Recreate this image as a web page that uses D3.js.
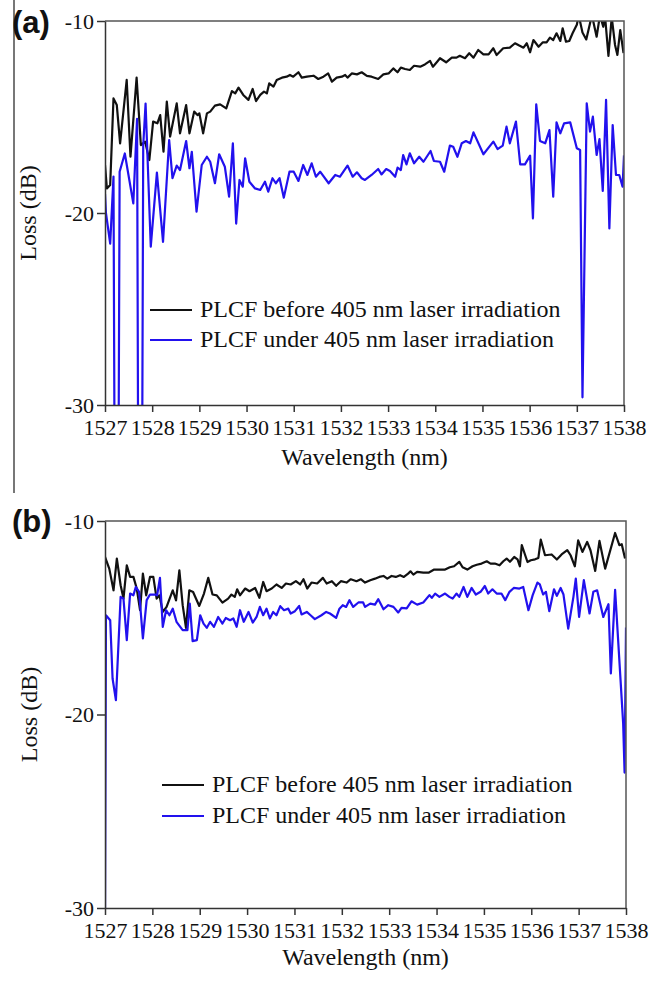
<!DOCTYPE html>
<html>
<head>
<meta charset="utf-8">
<script src="https://cdn.jsdelivr.net/npm/d3@7"></script>
<style>
body { margin: 0; background: #fff; }
svg { display: block; }
.axis path, .axis line { stroke: #333; stroke-width: 1.5; }
.axis text { font-family: "Liberation Serif", "Times New Roman", serif; font-size: 22px; fill: #111; }
.title { font-family: "Liberation Serif", "Times New Roman", serif; font-size: 24px; fill: #111; }
.tag { font-family: "Liberation Sans", Arial, sans-serif; font-size: 31px; font-weight: bold; fill: #111; }
</style>
</head>
<body>
<div id="chart"></div>
<script>
// tick values and labels
var xTicks = [1527, 1528, 1529, 1530, 1531, 1532, 1533, 1534, 1535, 1536, 1537, 1538];
var yTicks = [-10, -20, -30];
var legendLabels = ["PLCF before 405 nm laser irradiation", "PLCF under 405 nm laser irradiation"];

// (a) before irradiation  [wavelength nm, loss dB]
var aBefore = [[1527.0,-17.5],[1527.04,-18.72],[1527.11,-18.54],[1527.18,-14.03],[1527.25,-14.38],[1527.32,-16.37],[1527.46,-13.07],[1527.54,-17.07],[1527.67,-12.95],[1527.76,-16.46],[1527.85,-16.28],[1527.94,-17.24],[1528.02,-15.24],[1528.11,-15.33],[1528.17,-14.9],[1528.24,-16.81],[1528.31,-14.2],[1528.38,-16.02],[1528.52,-14.29],[1528.59,-15.85],[1528.72,-14.38],[1528.79,-15.85],[1528.89,-14.72],[1528.96,-14.9],[1529.0,-14.81],[1529.08,-15.85],[1529.16,-14.81],[1529.23,-14.72],[1529.33,-14.41],[1529.44,-14.34],[1529.57,-14.55],[1529.69,-13.65],[1529.76,-13.77],[1529.83,-13.47],[1529.93,-13.85],[1530.04,-14.11],[1530.13,-13.54],[1530.2,-14.17],[1530.29,-13.85],[1530.37,-13.68],[1530.43,-13.77],[1530.48,-13.25],[1530.57,-13.42],[1530.64,-13.07],[1530.75,-12.95],[1530.85,-12.9],[1530.92,-12.81],[1530.99,-12.9],[1531.1,-12.67],[1531.17,-12.95],[1531.28,-12.9],[1531.42,-12.85],[1531.52,-13.02],[1531.63,-12.9],[1531.73,-12.73],[1531.81,-13.16],[1531.91,-12.95],[1532.02,-12.9],[1532.09,-12.81],[1532.14,-12.95],[1532.23,-12.73],[1532.34,-12.78],[1532.44,-12.67],[1532.55,-12.86],[1532.65,-12.9],[1532.79,-13.02],[1532.9,-12.78],[1533.01,-12.73],[1533.11,-12.47],[1533.2,-12.67],[1533.27,-12.43],[1533.36,-12.5],[1533.46,-12.55],[1533.55,-12.33],[1533.68,-12.38],[1533.78,-12.26],[1533.89,-12.08],[1533.95,-12.38],[1534.04,-12.12],[1534.1,-11.94],[1534.23,-12.15],[1534.35,-11.91],[1534.45,-11.91],[1534.52,-11.81],[1534.63,-11.94],[1534.72,-11.68],[1534.81,-11.91],[1534.91,-11.51],[1535.02,-11.74],[1535.13,-11.74],[1535.23,-11.42],[1535.3,-11.77],[1535.44,-11.42],[1535.58,-11.39],[1535.69,-11.16],[1535.78,-11.28],[1535.87,-11.39],[1535.94,-11.16],[1536.01,-11.63],[1536.08,-10.99],[1536.19,-11.34],[1536.28,-11.11],[1536.36,-11.11],[1536.43,-10.87],[1536.5,-10.99],[1536.57,-10.64],[1536.65,-11.04],[1536.7,-10.38],[1536.77,-11.08],[1536.84,-11.04],[1536.91,-10.64],[1537.0,-10.2],[1537.04,-9.7],[1537.12,-10.6],[1537.2,-10.96],[1537.32,-9.7],[1537.42,-10.82],[1537.49,-9.7],[1537.56,-10.3],[1537.6,-9.8],[1537.67,-11.82],[1537.74,-9.8],[1537.81,-11.25],[1537.86,-11.77],[1537.92,-10.47],[1537.99,-11.67]];

// (a) under irradiation
var aUnder = [[1527.0,-19.0],[1527.02,-20.0],[1527.11,-21.6],[1527.18,-18.1],[1527.2,-31],[1527.29,-31],[1527.31,-17.85],[1527.42,-16.9],[1527.6,-19.5],[1527.68,-15.1],[1527.7,-31],[1527.79,-31],[1527.81,-16.5],[1527.86,-14.3],[1527.97,-21.75],[1528.1,-17.9],[1528.23,-21.5],[1528.36,-16.2],[1528.43,-18.19],[1528.52,-17.53],[1528.59,-17.76],[1528.72,-16.25],[1528.79,-17.67],[1528.84,-16.81],[1528.94,-19.93],[1529.05,-17.5],[1529.16,-17.07],[1529.23,-17.33],[1529.33,-18.45],[1529.42,-16.94],[1529.54,-17.59],[1529.63,-19.15],[1529.71,-16.37],[1529.78,-20.55],[1529.85,-18.28],[1529.92,-18.63],[1529.97,-17.15],[1530.06,-18.37],[1530.18,-18.72],[1530.29,-18.8],[1530.39,-18.37],[1530.46,-18.89],[1530.55,-18.19],[1530.62,-18.45],[1530.7,-18.19],[1530.79,-19.2],[1530.91,-17.85],[1531.0,-17.85],[1531.1,-18.33],[1531.2,-17.5],[1531.29,-18.02],[1531.38,-17.41],[1531.47,-18.11],[1531.56,-17.85],[1531.74,-18.45],[1531.88,-18.02],[1531.98,-18.11],[1532.14,-17.53],[1532.25,-18.11],[1532.34,-17.88],[1532.44,-18.19],[1532.51,-18.28],[1532.65,-18.02],[1532.79,-17.71],[1532.86,-17.99],[1532.96,-17.71],[1533.04,-17.81],[1533.15,-18.11],[1533.2,-17.64],[1533.27,-17.76],[1533.32,-16.98],[1533.39,-17.47],[1533.46,-16.89],[1533.55,-17.41],[1533.66,-17.07],[1533.75,-17.33],[1533.9,-16.77],[1533.97,-17.29],[1534.1,-17.33],[1534.19,-17.85],[1534.31,-16.49],[1534.38,-16.55],[1534.47,-17.07],[1534.56,-16.37],[1534.65,-16.25],[1534.74,-16.37],[1534.81,-15.8],[1535.02,-16.94],[1535.23,-16.28],[1535.32,-16.67],[1535.43,-16.49],[1535.51,-15.5],[1535.58,-16.37],[1535.71,-15.24],[1535.8,-17.47],[1535.9,-17.47],[1536.01,-17.01],[1536.07,-20.28],[1536.14,-14.34],[1536.22,-16.25],[1536.33,-16.37],[1536.42,-15.68],[1536.5,-19.15],[1536.57,-15.28],[1536.65,-15.85],[1536.73,-15.33],[1536.86,-15.28],[1537.0,-16.63],[1537.07,-16.72],[1537.12,-29.6],[1537.21,-14.29],[1537.28,-15.76],[1537.34,-14.98],[1537.42,-16.98],[1537.48,-16.15],[1537.55,-18.85],[1537.62,-14.11],[1537.69,-20.8],[1537.76,-15.42],[1537.83,-18.02],[1537.9,-18.02],[1537.97,-18.63],[1538.0,-17.0]];

// (b) before irradiation
var bBefore = [[1527.0,-11.86],[1527.09,-12.46],[1527.18,-13.58],[1527.25,-11.94],[1527.33,-13.32],[1527.39,-14.01],[1527.46,-12.29],[1527.53,-12.89],[1527.6,-12.89],[1527.67,-13.49],[1527.74,-14.61],[1527.8,-12.72],[1527.87,-13.84],[1527.95,-12.89],[1528.02,-12.89],[1528.09,-14.01],[1528.15,-13.84],[1528.22,-14.7],[1528.3,-14.44],[1528.43,-13.58],[1528.5,-14.1],[1528.57,-12.55],[1528.64,-14.35],[1528.71,-15.52],[1528.78,-13.58],[1528.86,-13.67],[1528.99,-14.39],[1529.09,-13.75],[1529.18,-12.94],[1529.27,-13.8],[1529.36,-13.84],[1529.48,-14.22],[1529.6,-14.01],[1529.67,-13.8],[1529.74,-13.92],[1529.79,-13.53],[1529.85,-13.84],[1529.96,-13.49],[1530.05,-13.63],[1530.17,-13.46],[1530.26,-13.97],[1530.34,-13.15],[1530.41,-13.63],[1530.52,-13.49],[1530.62,-13.28],[1530.73,-13.46],[1530.82,-13.23],[1530.92,-13.28],[1531.03,-13.11],[1531.12,-13.28],[1531.19,-13.01],[1531.27,-13.49],[1531.36,-13.18],[1531.48,-13.23],[1531.6,-12.94],[1531.68,-13.23],[1531.79,-13.11],[1531.88,-13.35],[1531.98,-13.11],[1532.1,-13.18],[1532.19,-13.01],[1532.31,-13.11],[1532.4,-13.01],[1532.49,-13.18],[1532.6,-13.06],[1532.7,-12.98],[1532.79,-12.89],[1532.88,-12.84],[1532.96,-12.98],[1533.05,-12.84],[1533.14,-12.89],[1533.23,-12.8],[1533.31,-12.89],[1533.4,-12.72],[1533.45,-12.6],[1533.51,-12.77],[1533.59,-12.63],[1533.72,-12.67],[1533.83,-12.67],[1533.95,-12.51],[1534.07,-12.51],[1534.18,-12.51],[1534.28,-12.39],[1534.37,-12.34],[1534.48,-12.11],[1534.55,-12.39],[1534.65,-12.51],[1534.76,-12.34],[1534.85,-12.26],[1534.95,-12.2],[1535.06,-12.08],[1535.14,-12.2],[1535.23,-12.2],[1535.33,-12.29],[1535.41,-12.08],[1535.48,-11.94],[1535.55,-12.11],[1535.64,-11.86],[1535.71,-11.98],[1535.76,-12.34],[1535.8,-11.25],[1535.92,-12.12],[1535.99,-12.03],[1536.08,-11.98],[1536.15,-11.91],[1536.2,-10.96],[1536.29,-11.77],[1536.43,-11.73],[1536.54,-11.99],[1536.64,-11.73],[1536.76,-11.51],[1536.83,-11.77],[1536.92,-12.34],[1536.99,-11.0],[1537.08,-11.6],[1537.18,-11.08],[1537.25,-11.51],[1537.35,-12.58],[1537.44,-11.03],[1537.56,-12.46],[1537.77,-10.62],[1537.86,-11.25],[1537.91,-11.2],[1537.98,-11.94]];

// (b) under irradiation
var bUnder = [[1527.0,-30.5],[1527.02,-14.87],[1527.11,-15.13],[1527.16,-18.14],[1527.23,-19.26],[1527.33,-13.92],[1527.39,-14.01],[1527.46,-16.16],[1527.53,-13.75],[1527.6,-13.84],[1527.65,-13.41],[1527.72,-13.66],[1527.8,-16.07],[1527.88,-14.09],[1527.95,-13.8],[1528.06,-13.8],[1528.1,-13.84],[1528.16,-12.94],[1528.22,-15.47],[1528.29,-14.61],[1528.36,-14.87],[1528.43,-14.53],[1528.51,-15.21],[1528.64,-15.64],[1528.74,-15.64],[1528.79,-14.27],[1528.85,-16.21],[1528.94,-16.16],[1529.01,-14.87],[1529.08,-15.3],[1529.15,-15.52],[1529.22,-15.21],[1529.3,-15.47],[1529.39,-14.96],[1529.48,-15.3],[1529.55,-15.01],[1529.64,-15.13],[1529.71,-15.04],[1529.78,-15.47],[1529.85,-14.61],[1529.93,-15.21],[1530.03,-14.7],[1530.12,-15.25],[1530.2,-14.96],[1530.27,-14.44],[1530.34,-14.87],[1530.41,-14.53],[1530.48,-15.04],[1530.55,-14.7],[1530.62,-14.87],[1530.7,-14.4],[1530.78,-14.61],[1530.87,-14.53],[1530.92,-14.78],[1531.01,-14.66],[1531.1,-14.39],[1531.15,-14.83],[1531.26,-14.7],[1531.34,-14.87],[1531.43,-15.07],[1531.57,-14.87],[1531.67,-14.7],[1531.75,-14.78],[1531.88,-15.01],[1531.95,-14.53],[1532.02,-14.35],[1532.09,-14.44],[1532.16,-14.09],[1532.24,-14.44],[1532.35,-14.21],[1532.45,-14.21],[1532.49,-14.44],[1532.6,-14.27],[1532.7,-14.32],[1532.77,-14.04],[1532.88,-14.56],[1532.98,-14.35],[1533.09,-14.44],[1533.19,-14.73],[1533.26,-14.49],[1533.37,-14.52],[1533.47,-14.15],[1533.59,-14.32],[1533.72,-14.21],[1533.85,-13.83],[1533.9,-13.97],[1533.97,-13.75],[1534.06,-13.92],[1534.18,-13.75],[1534.27,-13.92],[1534.34,-14.01],[1534.42,-13.75],[1534.48,-13.92],[1534.57,-13.41],[1534.65,-13.92],[1534.74,-13.46],[1534.83,-13.8],[1534.93,-13.66],[1535.02,-13.36],[1535.09,-13.75],[1535.18,-13.53],[1535.27,-13.75],[1535.37,-13.75],[1535.45,-14.09],[1535.54,-13.66],[1535.63,-13.46],[1535.75,-13.49],[1535.83,-13.41],[1535.94,-14.61],[1536.03,-13.83],[1536.13,-13.18],[1536.18,-13.28],[1536.25,-13.8],[1536.31,-13.66],[1536.38,-14.66],[1536.48,-13.53],[1536.54,-13.87],[1536.62,-13.46],[1536.68,-13.8],[1536.78,-15.56],[1536.89,-13.92],[1536.94,-12.98],[1537.01,-14.96],[1537.11,-13.06],[1537.23,-14.78],[1537.31,-13.66],[1537.39,-13.58],[1537.52,-14.96],[1537.63,-14.3],[1537.68,-17.88],[1537.77,-13.56],[1537.94,-20.46],[1537.97,-23.0],[1538.0,-15.5]];

var width = 660, height = 983;

var svg = d3.select("#chart").append("svg")
    .attr("width", width)
    .attr("height", height);

// thin frame line at the left of the top figure
svg.append("line")
    .attr("x1", 14).attr("x2", 14)
    .attr("y1", 0).attr("y2", 493)
    .attr("stroke", "#777")
    .attr("stroke-width", 2);

function drawPanel(p) {
    var xScale = d3.scaleLinear().domain([1527, 1538]).range([p.left, p.right]);
    var yScale = d3.scaleLinear().domain([-30, -10]).range([p.bottom, p.top]);

    var clipId = "clip-" + p.id;
    svg.append("clipPath").attr("id", clipId)
        .append("rect")
        .attr("x", p.left).attr("y", p.top)
        .attr("width", p.right - p.left).attr("height", p.bottom - p.top);

    var line = d3.line()
        .x(d => xScale(d[0]))
        .y(d => yScale(d[1]));

    var g = svg.append("g").attr("clip-path", "url(#" + clipId + ")");
    g.append("path").datum(p.before)
        .attr("fill", "none").attr("stroke", "#111").attr("stroke-width", 2.2)
        .attr("stroke-linejoin", "round")
        .attr("d", line);
    g.append("path").datum(p.under)
        .attr("fill", "none").attr("stroke", "#2211ee").attr("stroke-width", 2.2)
        .attr("stroke-linejoin", "round")
        .attr("d", line);

    // top and right frame
    svg.append("path")
        .attr("d", "M" + p.left + "," + p.top + "H" + p.right + "V" + p.bottom)
        .attr("fill", "none").attr("stroke", "#555").attr("stroke-width", 1.5);

    // x axis
    svg.append("g")
        .attr("class", "axis")
        .attr("transform", "translate(0," + p.bottom + ")")
        .call(d3.axisBottom(xScale).tickValues(xTicks).tickFormat(d3.format("d"))
            .tickSize(7).tickSizeOuter(0).tickPadding(7));

    // y axis
    svg.append("g")
        .attr("class", "axis")
        .attr("transform", "translate(" + p.left + ",0)")
        .call(d3.axisLeft(yScale).tickValues(yTicks).tickFormat(d => String(d))
            .tickSize(8).tickSizeOuter(0).tickPadding(3));

    svg.append("text").attr("class", "title")
        .attr("x", (p.left + p.right) / 2).attr("y", p.xTitleY)
        .attr("text-anchor", "middle")
        .text("Wavelength (nm)");

    svg.append("text").attr("class", "title")
        .attr("transform", "translate(" + p.yTitleX + "," + (p.top + p.bottom) / 2 + ") rotate(-90)")
        .attr("text-anchor", "middle")
        .text("Loss (dB)");

    svg.append("text").attr("class", "tag")
        .attr("x", 12).attr("y", p.tagY)
        .text(p.tag);

    // legend
    var colors = ["#111", "#2211ee"];
    legendLabels.forEach((lab, i) => {
        var ly = p.legendY + i * p.legendGap;
        svg.append("line")
            .attr("x1", p.legendX).attr("x2", p.legendX + 42)
            .attr("y1", ly).attr("y2", ly)
            .attr("stroke", colors[i]).attr("stroke-width", 2);
        svg.append("text").attr("class", "title")
            .attr("x", p.legendX + 50).attr("y", ly + 7)
            .text(lab);
    });
}

drawPanel({id: "a", tag: "(a)", left: 105, right: 624, top: 21, bottom: 405,
    before: aBefore, under: aUnder, xTitleY: 465, yTitleX: 36, tagY: 33,
    legendX: 150, legendY: 310, legendGap: 30});

drawPanel({id: "b", tag: "(b)", left: 105, right: 626, top: 521, bottom: 908,
    before: bBefore, under: bUnder, xTitleY: 965, yTitleX: 37, tagY: 532,
    legendX: 162, legendY: 785, legendGap: 31});
</script>
</body>
</html>
